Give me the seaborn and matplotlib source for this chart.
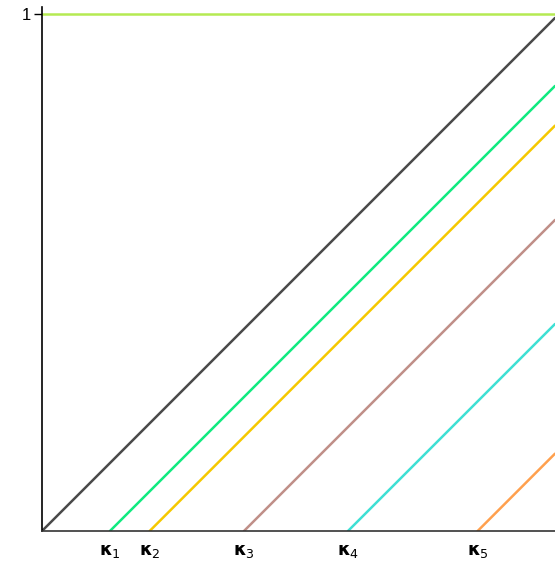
import matplotlib
matplotlib.use("Agg")
import matplotlib.pyplot as plt
import seaborn as sns
import pandas as pd

# kappa thresholds where each shifted line leaves the x-axis
kappas = [0.1315, 0.2083, 0.3907, 0.5919, 0.8427]
kappa_labels = [r"$\mathbf{\kappa}_1$", r"$\mathbf{\kappa}_2$", r"$\mathbf{\kappa}_3$",
                r"$\mathbf{\kappa}_4$", r"$\mathbf{\kappa}_5$"]
kappa_colors = ["#10ea80", "#f5c800", "#c08f88", "#3ee0d4", "#ffa04e"]
diag_color = "#4a4a4a"
top_color = "#b5ea52"
x_max = 0.9923
y_max = 1.0135

sns.set_style("white")
plt.rcParams["font.family"] = ["Liberation Sans", "DejaVu Sans"]
plt.rcParams["mathtext.fontset"] = "dejavusans"

rows = []
rows.append({"line": "top", "x": 0.0, "y": 1.0})
rows.append({"line": "top", "x": x_max, "y": 1.0})
rows.append({"line": "diag", "x": 0.0, "y": 0.0})
rows.append({"line": "diag", "x": x_max, "y": x_max})
for i, k in enumerate(kappas):
    rows.append({"line": f"k{i+1}", "x": k, "y": 0.0})
    rows.append({"line": f"k{i+1}", "x": x_max, "y": x_max - k})
df = pd.DataFrame(rows)

palette = {"top": top_color, "diag": diag_color}
for i, c in enumerate(kappa_colors):
    palette[f"k{i+1}"] = c

fig = plt.figure(figsize=(5.55, 5.76), dpi=100)
ax = fig.add_axes([42 / 555, 45 / 576, 513 / 555, 524 / 576])
sns.lineplot(data=df, x="x", y="y", hue="line", palette=palette, linewidth=1.8,
             legend=False, ax=ax, estimator=None, sort=False)

ax.set_xlim(0, x_max)
ax.set_ylim(0, y_max)
ax.set_xlabel("")
ax.set_ylabel("")
ax.set_xticks(kappas)
ax.set_xticklabels(kappa_labels, fontsize=13, color="black")
ax.tick_params(axis="x", length=0, pad=9)
ax.set_yticks([1])
ax.set_yticklabels(["1"], fontsize=12, color="black")
ax.tick_params(axis="y", length=6, width=1, color="black", left=True, pad=2)

for s in ["top", "right"]:
    ax.spines[s].set_visible(False)
ax.spines["left"].set_color("black")
ax.spines["left"].set_linewidth(1.2)
ax.spines["bottom"].set_color("#333333")
ax.spines["bottom"].set_linewidth(1.2)

fig.savefig("out.png", dpi=100)
